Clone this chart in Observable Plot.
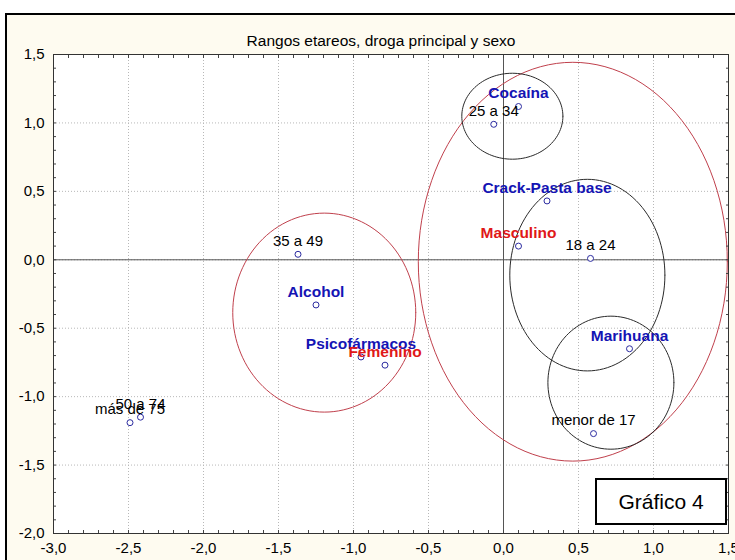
<!DOCTYPE html>
<html>
<head>
<meta charset="utf-8">
<script src="https://cdn.jsdelivr.net/npm/d3@7"></script>
<script src="https://cdn.jsdelivr.net/npm/@observablehq/plot@0.6"></script>
<style>
  body { margin: 0; background: white; }
  #wrap { position: relative; width: 735px; height: 560px; overflow: hidden; }
  #badge {
    position: absolute; left: 595px; top: 478px; width: 128px; height: 43px;
    border: 2px solid #000; background: #fff; box-sizing: content-box;
    font-family: "Liberation Sans", Arial, sans-serif; font-size: 21px;
    display: flex; align-items: center; justify-content: center; color: #000;
  }
</style>
</head>
<body>
<div id="wrap"><div id="badge">Gráfico 4</div></div>
<script>
// ---- data ----
const labels = ["Cocaína", "25 a 34", "Crack-Pasta base", "Masculino", "18 a 24", "Marihuana",
  "menor de 17", "35 a 49", "Alcohol", "Psicofármacos", "Femenino", "50 a 74", "más de 75"];
const xs = [0.10, -0.065, 0.29, 0.10, 0.58, 0.84, 0.60, -1.37, -1.25, -0.95, -0.79, -2.42, -2.49];
const ys = [1.12, 0.99, 0.43, 0.10, 0.01, -0.65, -1.27, 0.04, -0.33, -0.71, -0.77, -1.15, -1.19];
const kinds = ["droga", "edad", "droga", "sexo", "edad", "droga", "edad", "edad", "droga", "droga", "sexo", "edad", "edad"];

const ellipseCx = [0.462, -1.195, 0.059, 0.559, 0.716];
const ellipseCy = [-0.014, -0.386, 1.049, -0.112, -0.898];
const ellipseRx = [1.03, 0.61, 0.337, 0.517, 0.42];
const ellipseRy = [1.457, 0.727, 0.314, 0.70, 0.486];
const ellipseKind = ["rojo", "rojo", "negro", "negro", "negro"];

const majorTicks = [-3, -2.5, -2, -1.5, -1, -0.5, 0, 0.5, 1, 1.5];
const majorTicksY = [-2, -1.5, -1, -0.5, 0, 0.5, 1, 1.5];
const minorTicksX = d3.range(-30, 16).map(d => d / 10);
const minorTicksY = d3.range(-20, 16).map(d => d / 10);
const title = "Rangos etareos, droga principal y sexo";

// ---- build ----
const points = labels.map((l, i) => ({label: l, x: xs[i], y: ys[i], kind: kinds[i]}));
const ellipsePts = [];
ellipseCx.forEach((cx, i) => {
  for (let a = 0; a <= 360; a += 3) {
    const t = a * Math.PI / 180;
    ellipsePts.push({id: i, kind: ellipseKind[i], x: cx + ellipseRx[i] * Math.cos(t), y: ellipseCy[i] + ellipseRy[i] * Math.sin(t)});
  }
});
const fmt = d => d.toFixed(1).replace(".", ",");
const font = "'Liberation Sans', Arial, sans-serif";

const chart = Plot.plot({
  width: 735,
  height: 560,
  marginLeft: 53,
  marginRight: 7,
  marginTop: 54,
  marginBottom: 27,
  style: {background: "white", fontFamily: font, color: "#000"},
  x: {domain: [-3, 1.5]},
  y: {domain: [-2, 1.5]},
  marks: [
    Plot.frame({fill: "white", stroke: null}),
    Plot.gridX(majorTicks, {stroke: "#b8b8b8", strokeOpacity: 1, strokeDasharray: "1,2"}),
    Plot.gridY(majorTicksY, {stroke: "#b8b8b8", strokeOpacity: 1, strokeDasharray: "1,2"}),
    Plot.ruleX([0], {stroke: "#555"}),
    Plot.ruleY([0], {stroke: "#555"}),
    Plot.line(ellipsePts, {x: "x", y: "y", z: "id", stroke: d => d.kind === "rojo" ? "#c0404c" : "#2a2a2a", strokeWidth: 1, curve: "linear"}),
    Plot.dot(points, {x: "x", y: "y", r: 3, stroke: "#2a2aa0", fill: "white", strokeWidth: 1}),
    Plot.text(points.filter(d => d.kind === "edad"), {x: "x", y: "y", text: "label", dy: -13, fontSize: 15, fill: "#000"}),
    Plot.text(points.filter(d => d.kind === "droga"), {x: "x", y: "y", text: "label", dy: -13, fontSize: 15.5, fill: "#1414b4", fontWeight: "bold"}),
    Plot.text(points.filter(d => d.kind === "sexo"), {x: "x", y: "y", text: "label", dy: -13, fontSize: 15.5, fill: "#e01818", fontWeight: "bold"}),
    // inward ticks
    Plot.axisX({anchor: "bottom", ticks: minorTicksX, tickSize: -3, tickFormat: () => "", label: null, stroke: "#444"}),
    Plot.axisX({anchor: "top", ticks: minorTicksX, tickSize: -3, tickFormat: () => "", label: null, stroke: "#444"}),
    Plot.axisY({anchor: "left", ticks: minorTicksY, tickSize: -3, tickFormat: () => "", label: null, stroke: "#444"}),
    Plot.axisY({anchor: "right", ticks: minorTicksY, tickSize: -3, tickFormat: () => "", label: null, stroke: "#444"}),
    // labels
    Plot.axisX({anchor: "bottom", ticks: majorTicks, tickSize: 0, tickPadding: 9, tickFormat: fmt, label: null, fontSize: 15}),
    Plot.axisY({anchor: "left", ticks: majorTicksY, tickSize: 0, tickPadding: 9, tickFormat: fmt, label: null, fontSize: 15}),
    Plot.frame({stroke: "#333", strokeWidth: 1}),
    Plot.text([title], {frameAnchor: "top", dx: -10, dy: -20, fontSize: 15.5, fill: "#000"})
  ]
});

// outer cream panel with border
const svg = d3.select(chart);
svg.insert("rect", ":first-child")
  .attr("x", 6).attr("y", 14).attr("width", 740).attr("height", 560)
  .attr("fill", "#fefbf0").attr("stroke", "#000").attr("stroke-width", 2);
chart.style.position = "absolute";
chart.style.left = "0";
chart.style.top = "0";
const wrap = document.getElementById("wrap");
wrap.insertBefore(chart, wrap.firstChild);
</script>
</body>
</html>
